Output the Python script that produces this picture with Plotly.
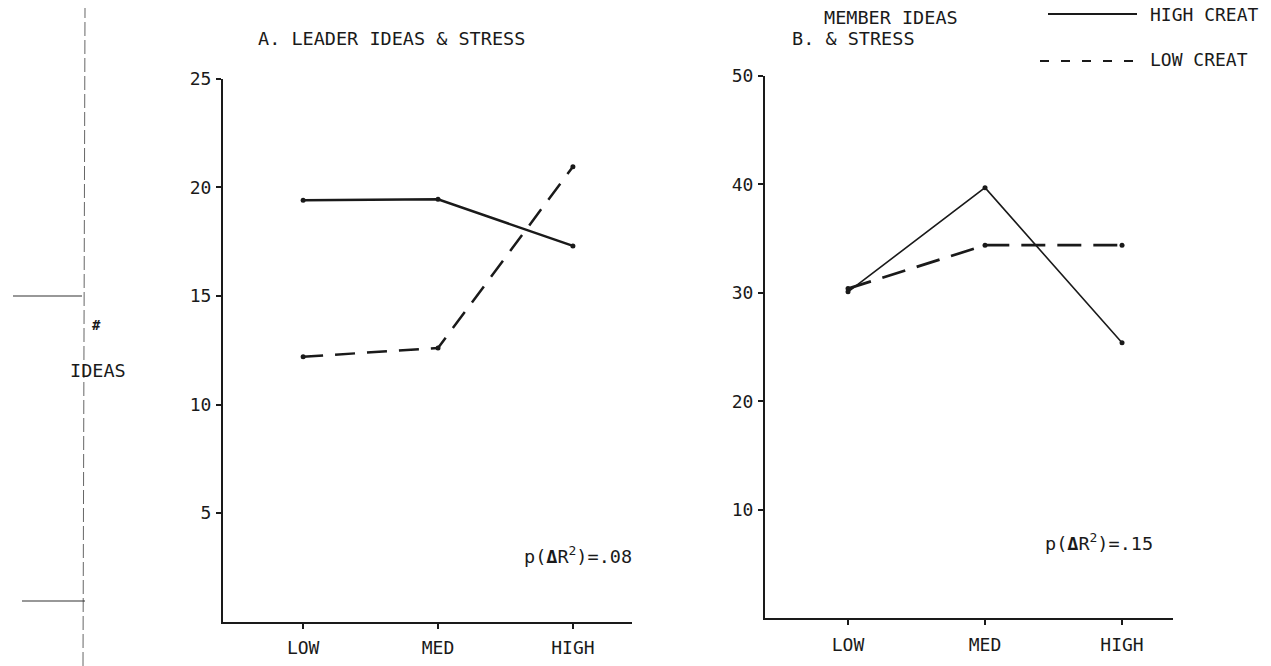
import plotly.graph_objects as go

# ---- data ----
stress_levels = ["LOW", "MED", "HIGH"]
leader_high_creat = [19.4, 19.45, 17.3]
leader_low_creat = [12.2, 12.6, 20.95]
member_high_creat = [30.1, 39.7, 25.4]
member_low_creat = [30.4, 34.4, 34.4]
leader_yticks = [5, 10, 15, 20, 25]
member_yticks = [10, 20, 30, 40, 50]

# page has an 8px body margin, so the figure is drawn 8px in from the window edge
OFF = 8
W, H = 1271 - OFF, 666 - OFF
FONT = "DejaVu Sans Mono"
INK = "#1a1a1a"

def px(x):
    return (x - OFF) / W

def py(y):
    return 1 - (y - OFF) / H

fig = go.Figure()

# Panel A
fig.add_trace(go.Scatter(x=stress_levels, y=leader_high_creat, mode="lines+markers",
                         line=dict(color=INK, width=2.5), marker=dict(size=5, color=INK),
                         xaxis="x", yaxis="y", showlegend=False, name="HIGH CREAT"))
fig.add_trace(go.Scatter(x=stress_levels, y=leader_low_creat, mode="lines+markers",
                         line=dict(color=INK, width=2.5, dash="20px,12px"), marker=dict(size=5, color=INK),
                         xaxis="x", yaxis="y", showlegend=False, name="LOW CREAT"))
# Panel B
fig.add_trace(go.Scatter(x=stress_levels, y=member_high_creat, mode="lines+markers",
                         line=dict(color=INK, width=1.6), marker=dict(size=5, color=INK),
                         xaxis="x2", yaxis="y2", showlegend=False, name="HIGH CREAT"))
fig.add_trace(go.Scatter(x=stress_levels, y=member_low_creat, mode="lines+markers",
                         line=dict(color=INK, width=2.8, dash="24px,12px"), marker=dict(size=5, color=INK),
                         xaxis="x2", yaxis="y2", showlegend=False, name="LOW CREAT"))

axis_common = dict(showline=True, linecolor=INK, linewidth=2, showgrid=False, zeroline=False,
                   ticks="outside", tickcolor=INK, tickwidth=2, automargin=False,
                   tickfont=dict(family=FONT, size=18, color=INK))

fig.update_layout(
    width=W, height=H,
    margin=dict(l=0, r=0, t=0, b=0, autoexpand=False),
    paper_bgcolor="white", plot_bgcolor="white",
    xaxis=dict(axis_common, domain=[px(223), px(632)], type="category",
               categoryorder="array", categoryarray=stress_levels,
               range=[-0.594, 2.438], anchor="y", ticklen=5, ticklabelstandoff=4),
    yaxis=dict(axis_common, domain=[py(621.7), py(78.7)], range=[0, 25],
               tickvals=leader_yticks, anchor="x", ticklen=5, ticklabelstandoff=1),
    xaxis2=dict(axis_common, domain=[px(765), px(1173)], type="category",
                categoryorder="array", categoryarray=stress_levels,
                range=[-0.606, 2.372], anchor="y2", ticklen=5, ticklabelstandoff=4),
    yaxis2=dict(axis_common, domain=[py(618.3), py(76)], range=[0, 50],
                tickvals=member_yticks, anchor="x2", ticklen=5, ticklabelstandoff=1),
)

def note(text, x, y, anchor="left", size=18.5):
    fig.add_annotation(text=text, x=px(x), y=py(y), xref="paper", yref="paper",
                       xanchor=anchor, yanchor="middle", showarrow=False,
                       font=dict(family=FONT, size=size, color=INK))

note("A. LEADER IDEAS &amp; STRESS", 391.5, 38, anchor="center")
note("MEMBER IDEAS", 822, 17)
note("B. &amp; STRESS", 790, 39)
note("p(<b>Δ</b>R<sup>2</sup>)=.08", 522, 555)
note("p(<b>Δ</b>R<sup>2</sup>)=.15", 1043, 542)
note("HIGH CREAT", 1148, 14, size=18)
note("LOW CREAT", 1148, 60, size=18)
note("<b>#</b>", 90, 325, size=14)
note("IDEAS", 68, 370)

# legend samples
fig.add_shape(type="line", xref="paper", yref="paper", x0=px(1048), x1=px(1137), y0=py(14), y1=py(14),
              line=dict(color=INK, width=2))
fig.add_shape(type="line", xref="paper", yref="paper", x0=px(1040), x1=px(1137), y0=py(61), y1=py(61),
              line=dict(color=INK, width=2, dash="9px,12px"))

# scan edge marks on the left
fig.add_shape(type="line", xref="paper", yref="paper", x0=px(83), x1=px(85), y0=0, y1=1,
              line=dict(color="#666", width=1, dash="14px,4px"))
fig.add_shape(type="line", xref="paper", yref="paper", x0=px(13), x1=px(82), y0=py(296), y1=py(296),
              line=dict(color="#333", width=1.2))
fig.add_shape(type="line", xref="paper", yref="paper", x0=px(22), x1=px(85), y0=py(601), y1=py(601),
              line=dict(color="#333", width=1.2))

fig.write_html("out.html")
